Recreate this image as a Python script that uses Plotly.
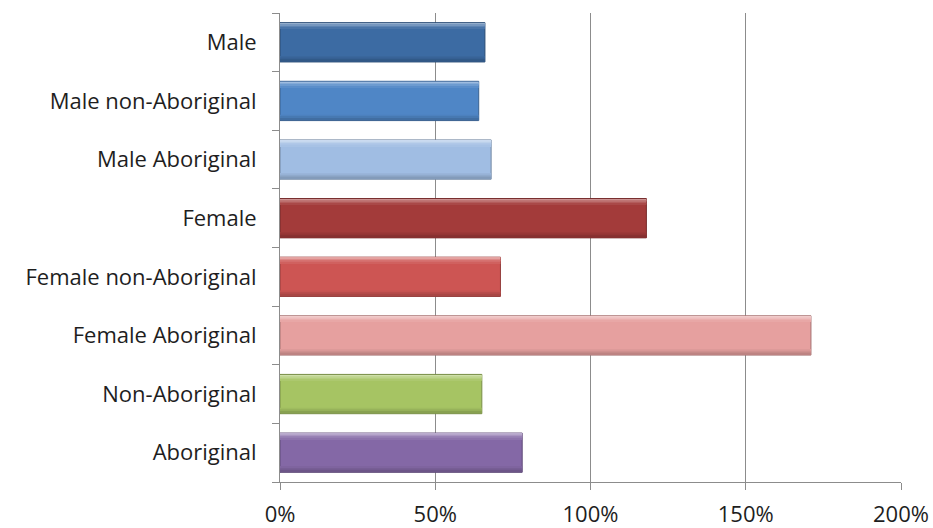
import plotly.graph_objects as go

# Share of each group, percent
categories = [
    "Male",
    "Male non-Aboriginal",
    "Male Aboriginal",
    "Female",
    "Female non-Aboriginal",
    "Female Aboriginal",
    "Non-Aboriginal",
    "Aboriginal",
]
values = [66, 64, 68, 118, 71, 171, 65, 78]
fill_colors = ["#3C6BA3", "#4F86C6", "#A0BDE3", "#A33B3A", "#CD5553",
               "#E6A09F", "#A6C463", "#8468A6"]
x_ticks = [0, 50, 100, 150, 200]
x_tick_labels = ["0%", "50%", "100%", "150%", "200%"]

BAR_WIDTH = 0.67


def shade(hex_color, amount):
    """Blend a colour toward white (amount > 0) or black (amount < 0)."""
    h = hex_color.lstrip("#")
    rgb = [int(h[i:i + 2], 16) for i in (0, 2, 4)]
    if amount >= 0:
        rgb = [round(c + (255 - c) * amount) for c in rgb]
    else:
        rgb = [round(c * (1 + amount)) for c in rgb]
    return "#{:02X}{:02X}{:02X}".format(*rgb)


fig = go.Figure()

# Base bar body
fig.add_trace(go.Bar(
    y=categories,
    x=values,
    orientation="h",
    width=BAR_WIDTH,
    marker=dict(color=fill_colors,
                line=dict(color=[shade(c, -0.28) for c in fill_colors], width=1)),
    hovertemplate="%{y}: %{x}%<extra></extra>",
))

# Bevel-like shading: soft light gradient along the top edge,
# a darker gradient along the bottom edge
half = BAR_WIDTH / 2
strips = [
    # (offset from bar centre, thickness, lightness change)
    (half - 0.030, 0.022, 0.45),
    (half - 0.055, 0.025, 0.30),
    (half - 0.080, 0.025, 0.17),
    (half - 0.105, 0.025, 0.07),
    (-half + 0.075, 0.025, -0.04),
    (-half + 0.045, 0.030, -0.10),
    (-half + 0.012, 0.033, -0.18),
]
for offset, width, amount in strips:
    fig.add_trace(go.Bar(
        y=categories,
        x=values,
        orientation="h",
        width=width,
        offset=offset,
        marker=dict(color=[shade(c, amount) for c in fill_colors], line=dict(width=0)),
        hoverinfo="skip",
    ))

font = dict(family="Open Sans, Noto Sans, sans-serif", size=22, color="#1E1E1E")

fig.update_layout(
    width=933,
    height=528,
    margin=dict(l=280, r=32, t=13, b=46),
    paper_bgcolor="white",
    plot_bgcolor="white",
    showlegend=False,
    barmode="overlay",
    font=font,
    xaxis=dict(
        range=[0, 200],
        tickvals=x_ticks,
        ticktext=x_tick_labels,
        automargin=False,
        showgrid=True,
        gridcolor="#8C8C8C",
        gridwidth=1,
        zeroline=False,
        showline=True,
        linecolor="#8C8C8C",
        linewidth=1,
        ticks="outside",
        ticklen=7,
        tickcolor="#8C8C8C",
        ticklabelstandoff=6,
        tickfont=font,
        fixedrange=True,
    ),
    yaxis=dict(
        categoryorder="array",
        categoryarray=categories[::-1],
        autorange=False,
        range=[-0.5, len(categories) - 0.5],
        automargin=False,
        showline=True,
        linecolor="#8C8C8C",
        linewidth=1,
        ticks="outside",
        tickson="boundaries",
        ticklen=7,
        tickcolor="#8C8C8C",
        ticklabelstandoff=18,
        showgrid=False,
        tickfont=font,
        fixedrange=True,
    ),
)

fig.write_html("out.html")
